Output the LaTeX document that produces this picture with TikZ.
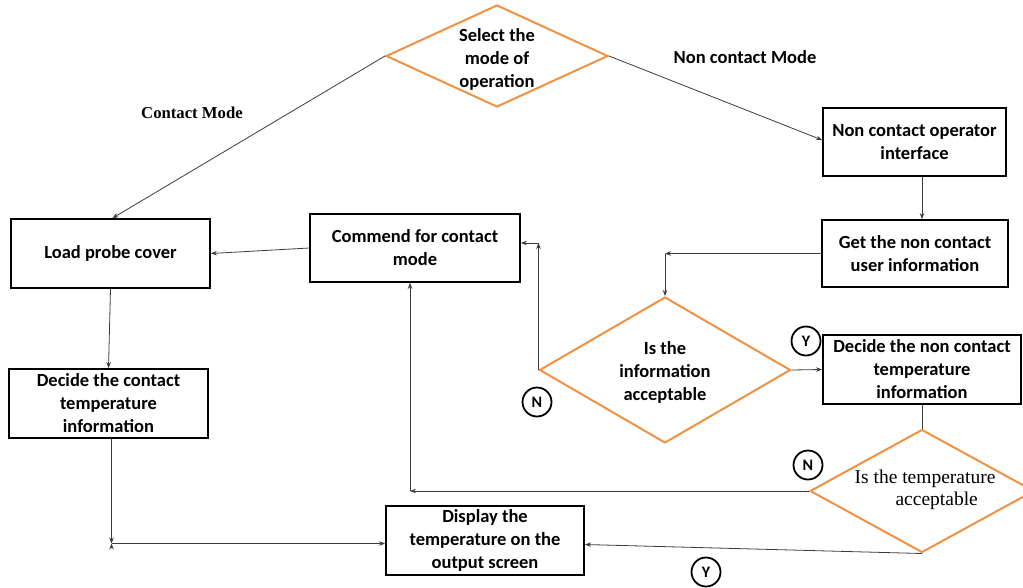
\documentclass[tikz,border=0pt]{standalone}
\usepackage{fontspec}
\setmainfont{Carlito}
\newfontfamily\timesfont{Liberation Serif}
\usetikzlibrary{shapes.geometric,arrows.meta,positioning}
\definecolor{flowOrange}{RGB}{240,146,66}
\definecolor{flowLine}{RGB}{60,60,60}

\begin{document}
\begin{tikzpicture}[x=1pt,y=-1pt,>={Stealth[length=6pt,width=4.5pt]},
  font=\fontsize{18.5}{23}\selectfont\bfseries]
  \tikzset{box/.style={draw,line width=1.8pt,align=center,inner sep=2pt,
      minimum width=199pt,minimum height=69pt},
    decision/.style={diamond,draw=flowOrange,line width=2pt,inner sep=0pt},
    yn/.style={circle,draw,line width=1.8pt,minimum size=29pt,inner sep=0pt,
      font=\fontsize{16}{16}\selectfont\bfseries},
    conn/.style={draw=flowLine,line width=0.8pt}}
  \useasboundingbox (0,0) rectangle (1023,587);

  % decisions
  \node[decision,minimum width=222pt,minimum height=102pt,
    label={[align=center,yshift=-3pt]center:Select the\\mode of\\operation}] (select) at (497,56) {};
  \node[decision,minimum width=251pt,minimum height=146pt,
    label={[align=center,yshift=-2pt]center:Is the\\information\\acceptable}] (info) at (665,370) {};
  \node[decision,minimum width=224pt,minimum height=123pt,
    label={[align=center,font=\timesfont\fontsize{19.5}{22}\selectfont,xshift=3pt,yshift=1pt]center:Is the temperature\\\hspace*{1.2em}acceptable}] (temp) at (922,491) {};

  % boxes
  \node[box,minimum width=183pt,minimum height=68pt] (ncoi) at (914.5,142) {Non contact operator\\interface};
  \node[box,minimum width=186pt,minimum height=67pt] (getinfo) at (915,253.5) {Get the non contact\\user information};
  \node[box] (load) at (110.5,253.5) {Load probe cover};
  \node[box,minimum width=210pt,minimum height=68pt] (commend) at (415,248) {Commend for contact\\mode};
  \node[box,minimum width=198pt] (decnc) at (922,369.5) {Decide the non contact\\temperature\\information};
  \node[box] (deccont) at (108.5,403.5) {Decide the contact\\temperature\\information};
  \node[box,minimum width=198pt] (display) at (485,540.5) {Display the\\temperature on the\\output screen};

  % mode labels
  \node[font=\timesfont\bfseries\fontsize{16.7}{18}\selectfont] (contactlbl) at (192,113) {Contact Mode};
  \node (noncontactlbl) at (745,57) {Non contact Mode};

  % Y / N marks
  \node[yn] (yinfo) at (806,341) {Y};
  \node[yn] (ninfo) at (537,402) {N};
  \node[yn] (ntemp) at (808,465) {N};
  \node[yn] (ytemp) at (706,572) {Y};

  % arrow ends and bends
  \coordinate (cmdin) at ([yshift=5pt]commend.east);
  \coordinate (cmdup) at ([xshift=-5pt]commend.south);
  \coordinate (dispin) at ([yshift=-3pt]display.west);
  \coordinate (dispyes) at ([yshift=-4pt]display.east);
  \coordinate (contout) at ([xshift=3pt]deccont.south);
  \coordinate (c1) at (info.north |- getinfo.west);
  \coordinate (c2) at (info.west |- cmdin);
  \coordinate (c3) at (cmdup |- temp.west);
  \coordinate (c4) at (contout |- dispin);

  \path[conn,->]
  (select.west) edge ([xshift=2pt]load.north)
  (select.east) edge ([yshift=2pt]ncoi.west)
  (ncoi.south -| decnc) edge (getinfo.north -| decnc)
  (getinfo.west) edge (c1)
  (c1) edge (info.north)
  (info.west) edge (c2)
  (c2) edge (cmdin)
  (info.east) edge (decnc.west)
  (temp.west) edge (c3)
  (c3) edge (cmdup)
  (temp.south) edge (dispyes)
  (commend.west) edge (load.east)
  (load.south) edge (deccont.north)
  (contout) edge (c4)
  (c4) edge (dispin)
  ;
  \path[conn] (decnc.south) -- (temp.north);
\end{tikzpicture}
\end{document}
